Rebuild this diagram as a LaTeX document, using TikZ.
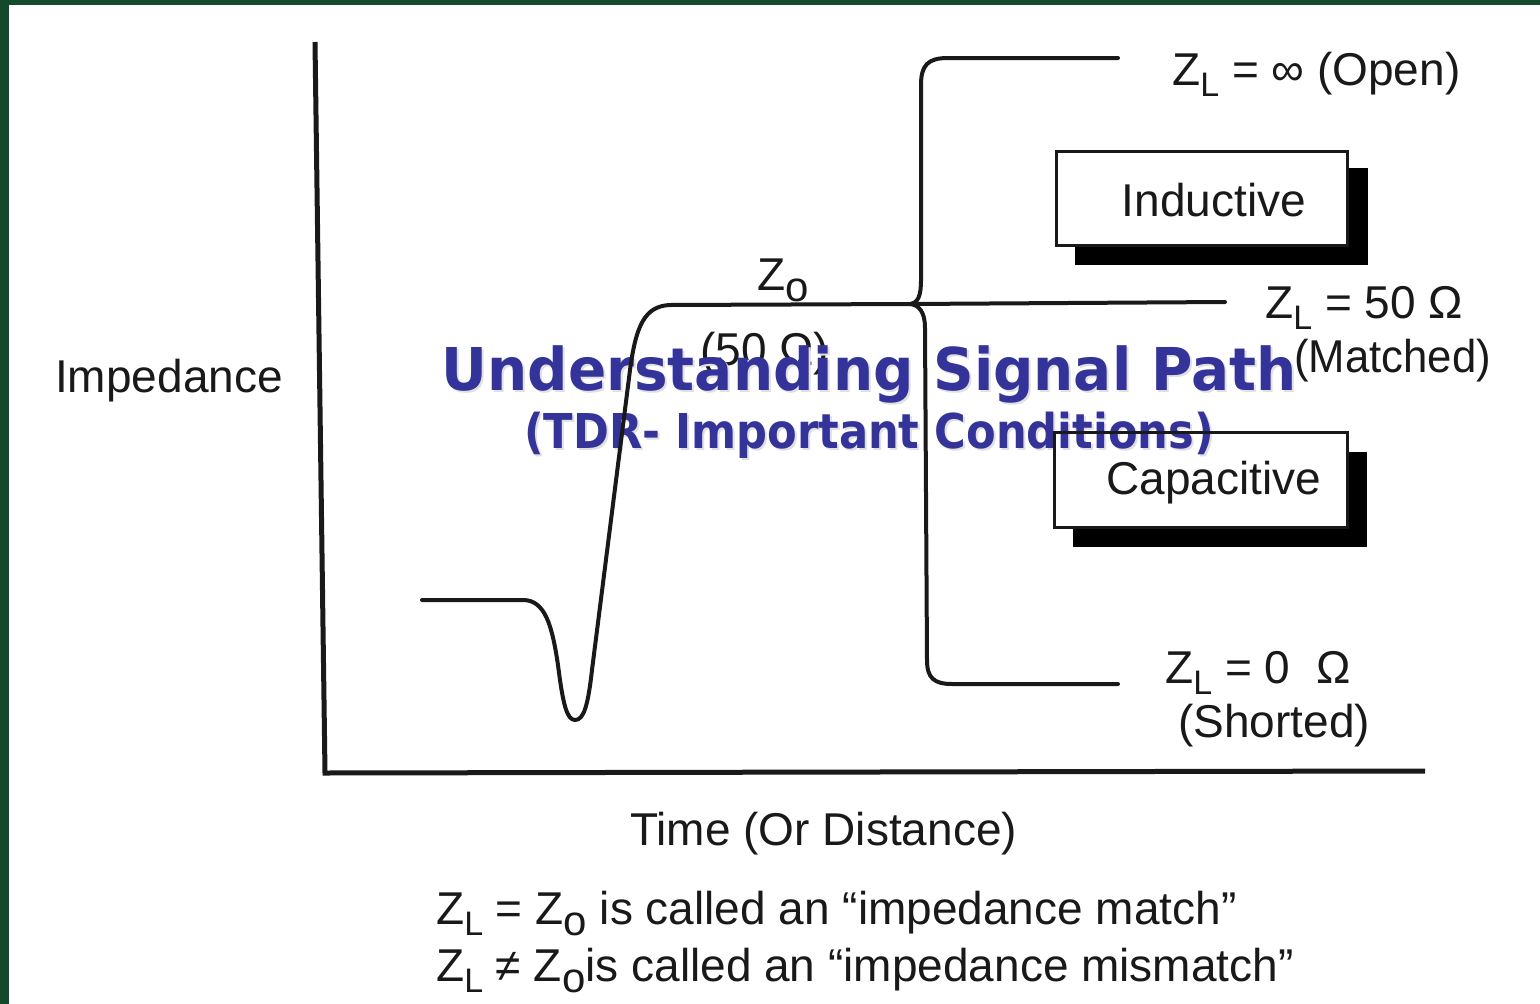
\documentclass[tikz,border=0pt]{standalone}
\usepackage{fontspec}
\setmainfont{Liberation Sans}
\newfontfamily\titlefont{DejaVu Sans}
\definecolor{framegreen}{RGB}{20,74,44}
\definecolor{titleblue}{RGB}{51,51,153}
\definecolor{ink}{RGB}{25,25,25}
\newcommand\zsubL{\raisebox{-11pt}{\fontsize{34}{34}\selectfont L}}
\newcommand\zsubO{\raisebox{-11pt}{\fontsize{42}{42}\selectfont o}}
\tikzset{
  lbl/.style={font=\fontsize{46}{50}\selectfont, inner sep=0pt, text=ink, anchor=base west},
  trace/.style={draw=ink, line width=4pt, line join=round, line cap=round},
  axisline/.style={draw=ink, line width=5pt, line join=miter},
  boxfill/.style={fill=white, inner sep=0pt},
  boxtext/.style={font=\fontsize{46}{50}\selectfont, text=ink, inner sep=0pt},
  boxedge/.style={draw=ink, line width=3pt},
  shadowbox/.style={fill=black, inner sep=0pt},
  ttl/.style={font=\titlefont\bfseries\fontsize{59}{60}\selectfont, text=titleblue, inner sep=0pt, anchor=base},
  subttl/.style={font=\titlefont\bfseries\fontsize{48}{50}\selectfont, text=titleblue, inner sep=0pt, anchor=base},
}
\begin{document}
\begin{tikzpicture}[x=1pt,y=-1pt]
\useasboundingbox (0,0) rectangle (1540,1004);
% frame
\fill[framegreen] (0,0) rectangle (1540,1004);
\fill[white] (9,5) rectangle (1540,1004);

% shadows and boxes
\node[shadowbox, minimum width=293, minimum height=97] (indsh) at (1221.5,216.5) {};
\node[boxfill, minimum width=290, minimum height=93] (ind) at (1202,198.5) {};
\node[boxtext] (indtxt) at (1214,200) {Inductive};
\node[shadowbox, minimum width=294, minimum height=95] (capsh) at (1220,499.5) {};
\node[boxfill, minimum width=292, minimum height=94] (cap) at (1201,480) {};
\node[boxtext] (captxt) at (1214,483) {Capacitive};

% labels
\node[lbl] (imp) at (55,392) {Impedance};
\node[lbl] (time) at (630,845) {Time (Or Distance)};
\node[lbl] (zo) at (757,290) {Z\zsubO};
\node[lbl] (fifty) at (700,365) {(50 Ω)};
\node[lbl] (open) at (1172,85) {Z\zsubL{} = ∞ (Open)};
\node[lbl] (z50) at (1265,318) {Z\zsubL{} = 50 Ω};
\node[lbl] (matched) at (1294,372) {\scalebox{0.95}[1]{(Matched)}};
\node[lbl] (z0) at (1165,683) {Z\zsubL{} = 0\hspace{26pt}Ω};
\node[lbl] (shorted) at (1178,737) {(Shorted)};
\node[lbl] (match) at (436,924) {Z\zsubL{} = Z\zsubO{} is called an “impedance match\char34};
\node[lbl] (mismatch) at (436,981) {Z\zsubL{} ≠ Z\zsubO{}is called an “impedance mismatch\char34};

% title
\node[ttl, text=black!12] (titlesh) at (871,392) {\scalebox{0.957}[1]{Understanding Signal Path}};
\node[ttl] (title) at (869,390) {\scalebox{0.957}[1]{Understanding Signal Path}};
\node[subttl, text=black!12] (subsh) at (871,450) {\scalebox{0.9}[1]{(TDR- Important Conditions)}};
\node[subttl] (sub) at (869,448) {\scalebox{0.9}[1]{(TDR- Important Conditions)}};

% box outlines
\draw[boxedge] (ind.north west) rectangle (ind.south east);
\draw[boxedge] (cap.north west) rectangle (cap.south east);

% axes
\coordinate (ytop) at (315,42);
\coordinate (orig) at (325,773);
\coordinate (xend) at (1425,771);
\draw[axisline] (ytop) -- (orig) -- (xend);

% trace
\coordinate (start) at (422,600);
\coordinate (J) at (910,304);
\coordinate (mend) at (1225,302);
\coordinate (oend) at (1118,58);
\coordinate (send) at (1118,684);
\draw[trace] (start) -- (523,600)
  .. controls (545,600) and (552,625) .. (558,665)
  .. controls (563,705) and (567,720) .. (575,720)
  .. controls (584,720) and (588,705) .. (592,670)
  -- (630,370)
  .. controls (636,325) and (645,306) .. (670,305)
  -- (J) -- (mend);
\draw[trace] (J) .. controls (918,303) and (921,296) .. (921,280)
  -- (921,85) .. controls (921,65) and (928,58) .. (948,58) -- (oend);
\draw[trace] (J) .. controls (919,305) and (925,312) .. (925,328)
  -- (927,660) .. controls (927,678) and (934,684) .. (952,684) -- (send);
\end{tikzpicture}
\end{document}
